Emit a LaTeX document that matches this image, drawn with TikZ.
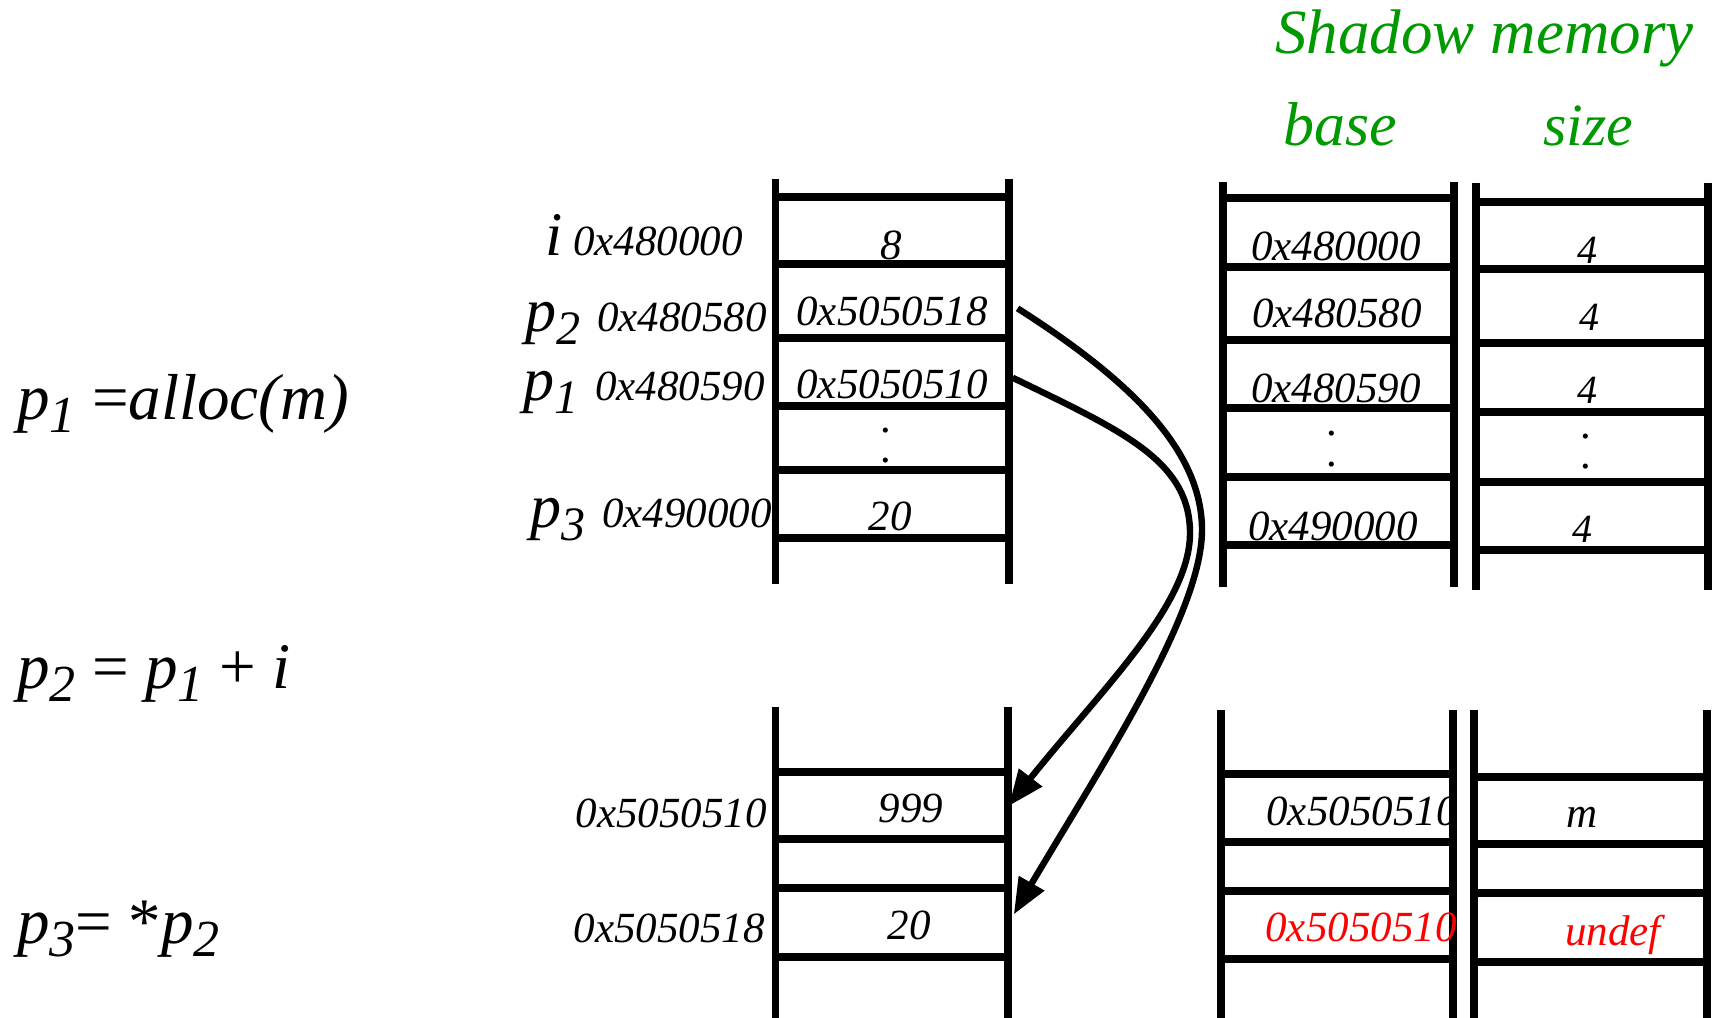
\documentclass[tikz,border=0pt]{standalone}
\usepackage{fontspec}
\setmainfont{Liberation Serif}
\usepackage{tikz}
\usetikzlibrary{arrows}
\usetikzlibrary{positioning}

\definecolor{shadowgreen}{RGB}{0,153,0}
\newcommand{\hexsz}{\fontsize{21.5}{21.5}\selectfont\itshape}
\newcommand{\varsz}{\fontsize{31}{31}\selectfont\itshape}
\newcommand{\eqsz}{\fontsize{32.5}{32.5}\selectfont\itshape}
\newcommand{\titlesz}{\fontsize{31.5}{31.5}\selectfont\itshape}
\newcommand{\lsub}[1]{\raisebox{-6.5pt}{\fontsize{24}{24}\selectfont\itshape #1}}
\newcommand{\esub}[1]{\raisebox{-6.5pt}{\fontsize{26}{26}\selectfont\itshape #1}}

\begin{document}
\begin{tikzpicture}[x=0.5pt,y=-0.5pt,>=triangle 45,
    bar/.style={line width=3.7pt},
    ptr/.style={->,line width=3.2pt},
    hex/.style={font=\hexsz,inner sep=0pt,anchor=base},
    slotv/.style={hex,minimum width=116.75pt,text height=22pt,text depth=0pt},
    slot/.style={inner sep=0pt,minimum width=116.75pt,minimum height=33pt},
    lbl/.style={font=\hexsz,inner sep=0pt,anchor=base west},
    eqn/.style={font=\eqsz,inner sep=0pt,anchor=base west},
    shd/.style={text=shadowgreen,inner sep=0pt,anchor=base west}]
        \useasboundingbox (0,0) rectangle (1721,1018);
        % program
        \node[eqn] (eq1) at (17,419) {p\esub{1} {\upshape =}alloc(m)};
        \node[eqn] (eq2) at (17,688) {p\esub{2} {\upshape =} p\esub{1} {\upshape +} i};
        \node[eqn] (eq3) at (17,943) {p\esub{3}{\upshape =} {\upshape *}p\esub{2}};
        %
        % shadow memory header
        \node[shd,font=\titlesz] (shadow) at (1275,53) {Shadow memory};
        \node[shd,font=\varsz] (base) at (1283,145) {base};
        \node[shd,font=\fontsize{30}{30}\selectfont\itshape] (size) at (1543,145) {size};
        %
        % stack / globals
        \draw[bar] (775.5,179) -- (775.5,584);
        \draw[bar] (1009,179) -- (1009,584);
        \foreach \y in {197,264,338,406,470,538} \draw[bar] (775.5,\y) -- (1009,\y);
        \node[lbl] (li) at (545,255) {{\varsz i} 0x480000};
        \node[lbl] (lp2) at (525,331) {{\varsz p}\lsub{2}\hspace{3pt} 0x480580};
        \node[lbl] (lp1) at (523,400) {{\varsz p}\lsub{1}\hspace{3pt} 0x480590};
        \node[lbl] (lp3) at (530,527) {{\varsz p}\lsub{3}\hspace{3pt} 0x490000};
        \node[slotv] (vi) at (891,259) {8};
        \node[slotv] (vp2) at (892,325) {0x5050518};
        \node[slotv] (vp1) at (892,398) {0x5050510};
        \node[hex] (vdot1) at (887,432) {.};
        \node[hex] (vdot2) at (887,462) {.};
        \node[slotv] (vp3) at (890,530) {20};
        %
        % shadow base
        \draw[bar] (1223,182) -- (1223,587);
        \draw[bar] (1454,182) -- (1454,587);
        \foreach \y in {198,267,340,408,477,545} \draw[bar] (1223,\y) -- (1454,\y);
        \node[hex] (bi) at (1336,260) {0x480000};
        \node[hex] (bp2) at (1337,327) {0x480580};
        \node[hex] (bp1) at (1336,402) {0x480590};
        \node[hex] (bdot1) at (1333,435) {.};
        \node[hex] (bdot2) at (1333,466) {.};
        \node[hex] (bp3) at (1333,540) {0x490000};
        %
        % shadow size
        \draw[bar] (1476,183) -- (1476,590);
        \draw[bar] (1708,183) -- (1708,590);
        \foreach \y in {202,269,343,412,482,550} \draw[bar] (1476,\y) -- (1708,\y);
        \node[hex,font=\fontsize{20}{20}\selectfont\itshape] (si) at (1587,263) {4};
        \node[hex,font=\fontsize{20}{20}\selectfont\itshape] (sp2) at (1589,330) {4};
        \node[hex,font=\fontsize{20}{20}\selectfont\itshape] (sp1) at (1587,403) {4};
        \node[hex] (sdot1) at (1587,438) {.};
        \node[hex] (sdot2) at (1587,468) {.};
        \node[hex,font=\fontsize{20}{20}\selectfont\itshape] (sp3) at (1582,542) {4};
        %
        % heap
        \draw[bar] (775.5,707) -- (775.5,1018);
        \draw[bar] (1008,707) -- (1008,1018);
        \foreach \y in {772,839,888,957} \draw[bar] (775.5,\y) -- (1008,\y);
        \node[slot] (heap0) at (892,805.5) {};
        \node[slot] (heap8) at (892,922.5) {};
        \node[hex,anchor=base east] (la) at (767,827) {0x5050510};
        \node[hex,anchor=base east] (lb) at (765,942) {0x5050518};
        \node[hex] (h999) at (911,822) {999};
        \node[hex] (h20) at (909,939) {20};
        %
        \draw[bar] (1221,710) -- (1221,1018);
        \draw[bar] (1453,710) -- (1453,1018);
        \foreach \y in {774,842,891,959} \draw[bar] (1221,\y) -- (1453,\y);
        \node[hex] (ba) at (1362,825) {0x5050510};
        \node[hex,text=red] (bb) at (1361,941) {0x5050510};
        %
        \draw[bar] (1474,710) -- (1474,1018);
        \draw[bar] (1707,710) -- (1707,1018);
        \foreach \y in {777,844,893,962} \draw[bar] (1474,\y) -- (1707,\y);
        \node[hex] (sa) at (1582,827) {m};
        \node[hex,text=red] (sb) at (1613,945) {undef};
        %
        % pointers into the heap
        \draw[ptr,shorten <=2pt] (vp1.east) .. controls (1120,430) and (1190,460) .. (1190,533)
            .. controls (1190,610) and (1090,700) .. (heap0.east);
        \draw[ptr,shorten <=5pt,shorten >=5pt] (vp2.east) .. controls (1130,380) and (1202,450) .. (1202,530)
            .. controls (1202,620) and (1085,790) .. (heap8.east);
      \end{tikzpicture}
\end{document}
